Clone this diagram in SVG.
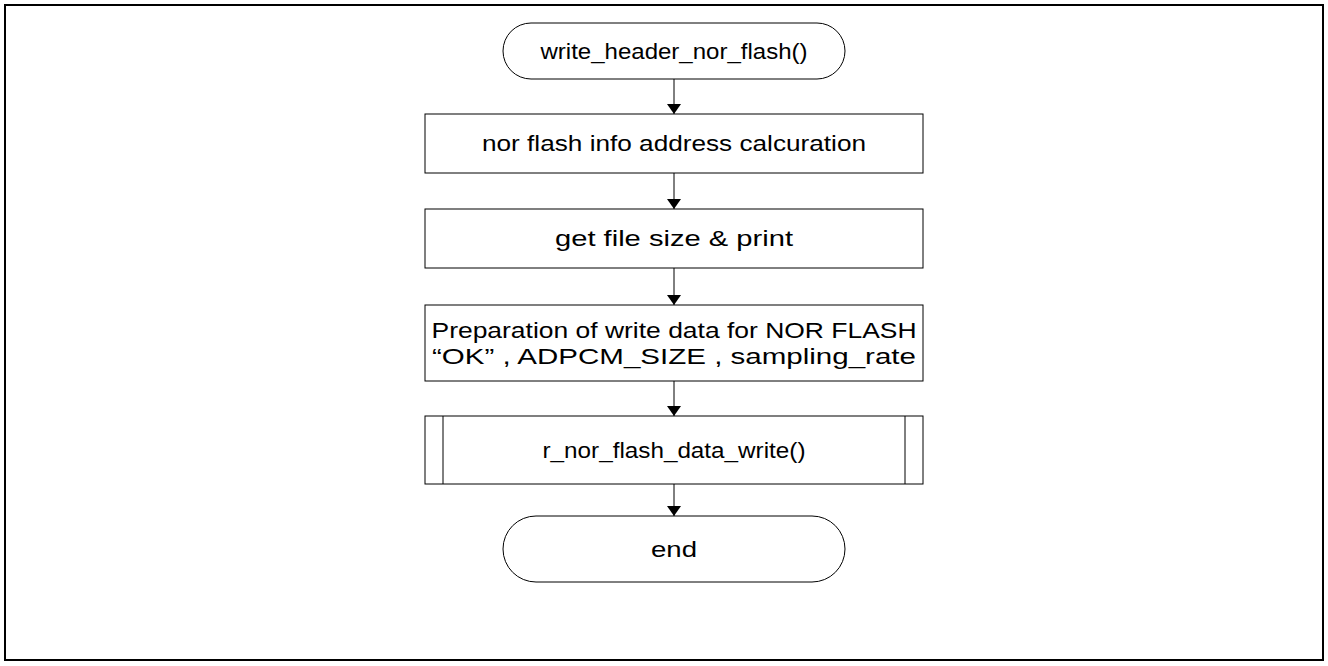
<svg xmlns="http://www.w3.org/2000/svg" width="1328" height="666" viewBox="0 0 1328 666">
<defs>
<style>
.bg{fill:#fff}
.frame{fill:none;stroke:#000;stroke-width:2}
.shape{fill:#fff;stroke:#000;stroke-width:1}
.edge{fill:none;stroke:#000;stroke-width:1;marker-end:url(#arrow)}
.label{font-family:"Liberation Sans","Noto Sans CJK JP",sans-serif;font-size:22px;fill:#000;text-anchor:middle;dominant-baseline:central}
</style>
<marker id="arrow" viewBox="0 0 10 14" refX="10" refY="7" markerWidth="10" markerHeight="14" markerUnits="userSpaceOnUse" orient="auto">
<path d="M0,0 L10,7 L0,14 Z" fill="#000"/>
</marker>
</defs>
<rect class="bg" x="0" y="0" width="1328" height="666"/>
<rect class="frame" x="5" y="5" width="1318" height="655"/>
<g id="connectors">
<line class="edge" x1="674" y1="79" x2="674" y2="114"/>
<line class="edge" x1="674" y1="173" x2="674" y2="209"/>
<line class="edge" x1="674" y1="268" x2="674" y2="305"/>
<line class="edge" x1="674" y1="381" x2="674" y2="416"/>
<line class="edge" x1="674" y1="484" x2="674" y2="516"/>
</g>
<g id="start">
<rect class="shape" x="503" y="23" width="342" height="56" rx="28" ry="28"/>
<text class="label" x="674" y="51" textLength="267" lengthAdjust="spacingAndGlyphs">write_header_nor_flash()</text>
</g>
<g id="box1">
<rect class="shape" x="425" y="114" width="498" height="59"/>
<text class="label" x="674" y="143" textLength="384" lengthAdjust="spacingAndGlyphs">nor flash info address calcuration</text>
</g>
<g id="box2">
<rect class="shape" x="425" y="209" width="498" height="59"/>
<text class="label" x="674" y="238" textLength="238" lengthAdjust="spacingAndGlyphs">get file size &amp; print</text>
</g>
<g id="box3">
<rect class="shape" x="425" y="305" width="498" height="76"/>
<text class="label" x="674" y="330" textLength="485" lengthAdjust="spacingAndGlyphs">Preparation of write data for NOR FLASH</text>
<text class="label" x="674" y="356" textLength="484" lengthAdjust="spacingAndGlyphs">“OK” , ADPCM_SIZE , sampling_rate</text>
</g>
<g id="box4">
<rect class="shape" x="425" y="416" width="498" height="68"/>
<line class="shape" x1="443" y1="416" x2="443" y2="484"/>
<line class="shape" x1="905" y1="416" x2="905" y2="484"/>
<text class="label" x="674" y="450" textLength="263" lengthAdjust="spacingAndGlyphs">r_nor_flash_data_write()</text>
</g>
<g id="end">
<rect class="shape" x="503" y="516" width="342" height="66" rx="33" ry="33"/>
<text class="label" x="674" y="549" textLength="46" lengthAdjust="spacingAndGlyphs">end</text>
</g>
</svg>
